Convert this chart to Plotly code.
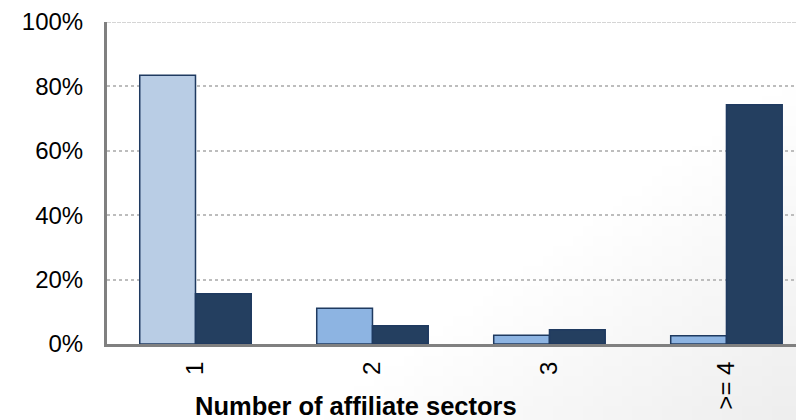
import base64
import struct
import zlib

import plotly.graph_objects as go

# Share of entities by number of affiliate sectors (percent)
categories = ["1", "2", "3", ">= 4"]
series_a = [83.5, 11.1, 2.7, 2.6]
series_b = [15.6, 5.7, 4.4, 74.3]
series_a_colors = ["#B9CDE5", "#8DB4E2", "#8DB4E2", "#8DB4E2"]
y_ticks = [0, 20, 40, 60, 80, 100]
y_tick_text = ["0%", "20%", "40%", "60%", "80%", "100%"]
x_title = "Number of affiliate sectors"

W, H = 796, 420


def gradient_png(w, h):
    """Small PNG with a soft white-to-grey diagonal shading toward the lower right."""
    rows = []
    for j in range(h):
        row = bytearray([0])
        for i in range(w):
            t = (i / (w - 1)) * 0.75 + (j / (h - 1)) * 0.55 - 0.85
            v = max(0.0, min(1.0, t / 0.45))
            c = int(round(255 - 17 * v))
            row += bytes([c, c, c])
        rows.append(bytes(row))
    raw = b"".join(rows)

    def chunk(tag, data):
        body = tag + data
        return struct.pack(">I", len(data)) + body + struct.pack(">I", zlib.crc32(body) & 0xFFFFFFFF)

    png = b"\x89PNG\r\n\x1a\n"
    png += chunk(b"IHDR", struct.pack(">IIBBBBB", w, h, 8, 2, 0, 0, 0))
    png += chunk(b"IDAT", zlib.compress(raw, 9))
    png += chunk(b"IEND", b"")
    return "data:image/png;base64," + base64.b64encode(png).decode()


fig = go.Figure()
fig.add_trace(go.Bar(
    x=categories, y=series_a,
    marker=dict(color=series_a_colors, line=dict(color="#1F3A60", width=1.5)),
    showlegend=False,
))
fig.add_trace(go.Bar(
    x=categories, y=series_b,
    marker=dict(color="#243F60", line=dict(color="#1F3A60", width=1.5)),
    showlegend=False,
))

font_family = "Liberation Sans, Arial, sans-serif"

fig.update_layout(
    width=W, height=H,
    margin=dict(l=107, r=0, t=22, b=76),
    paper_bgcolor="rgba(0,0,0,0)",
    plot_bgcolor="rgba(0,0,0,0)",
    barmode="group",
    bargap=0.37,
    bargroupgap=0,
    font=dict(family=font_family, size=24, color="#000000"),
    images=[dict(
        source=gradient_png(80, 42),
        xref="paper", yref="paper", x=-107 / 689, y=1 + 22 / 322,
        sizex=W / 689, sizey=H / 322, sizing="stretch",
        xanchor="left", yanchor="top", layer="below",
    )],
    xaxis=dict(
        range=[-0.5, 3.393],
        showgrid=False,
        showline=True, linecolor="#808080", linewidth=3,
        tickangle=-90,
        ticks="", ticklabelstandoff=5,
        tickfont=dict(size=24, color="#000000"),
        zeroline=False,
    ),
    yaxis=dict(
        range=[0, 100],
        tickvals=y_ticks,
        ticktext=y_tick_text,
        showgrid=True, gridcolor="#BDBDBD", gridwidth=1.5, griddash="dot",
        showline=True, linecolor="#808080", linewidth=3,
        ticks="", ticklabelstandoff=16,
        tickfont=dict(size=24, color="#000000"),
        zeroline=False,
    ),
    shapes=[dict(
        type="line", xref="paper", yref="y",
        x0=0, x1=1, y0=100, y1=100,
        line=dict(color="#C8C8C8", width=1.5, dash="4px,1px"),
        layer="above",
    )],
    annotations=[dict(
        text=f"<b>{x_title}</b>",
        xref="paper", yref="paper",
        x=(356 - 107) / 689, y=-(405.5 - 344) / 322,
        xanchor="center", yanchor="middle",
        showarrow=False,
        font=dict(family=font_family, size=25.5, color="#000000"),
    )],
)

fig.write_html("out.html")
